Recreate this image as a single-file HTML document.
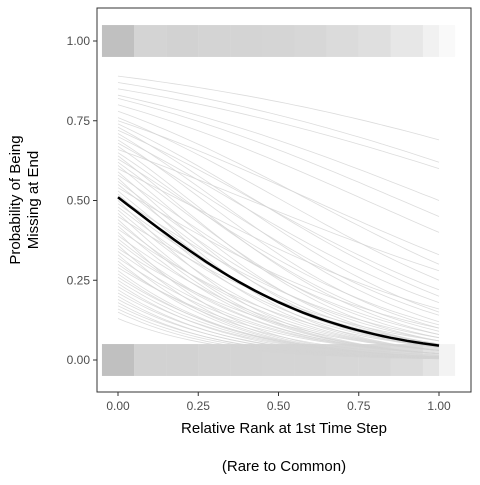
<!DOCTYPE html>
<html><head><meta charset="utf-8"><style>
body{margin:0;background:#fff;width:480px;height:480px;overflow:hidden}
svg text{font-family:"Liberation Sans",sans-serif}
</style></head><body>
<svg id="chart" width="480" height="480">
<rect x="0" y="0" width="480" height="480" fill="#fff"/>
<g id="bands"></g>
<g id="lines"></g>
<g id="main"></g>
<rect x="97" y="8" width="374" height="384" fill="none" stroke="#333" stroke-width="1"/>
<g id="axes"></g>
<text x="284" y="433" font-size="15" text-anchor="middle" fill="#000">Relative Rank at 1st Time Step</text>
<text x="284" y="471" font-size="15" text-anchor="middle" fill="#000">(Rare to Common)</text>
<g transform="translate(0,200) rotate(-90)">
<text x="0" y="20" font-size="15" text-anchor="middle" fill="#000">Probability of Being</text>
<text x="0" y="38" font-size="15" text-anchor="middle" fill="#000">Missing at End</text>
</g>
</svg>
<script>
const xTicks=[0,0.25,0.5,0.75,1];
const xTickLabels=["0.00","0.25","0.50","0.75","1.00"];
const yTicks=[0,0.25,0.5,0.75,1];
const yTickLabels=["0.00","0.25","0.50","0.75","1.00"];
const startProbs=[0.89,0.87,0.85,0.83,0.82,0.80,0.78,0.76,0.75,0.74,0.73,0.72,0.71,0.70,0.69,0.68,0.67,0.66,0.65,0.64,0.63,0.62,0.61,0.60,0.59,0.58,0.57,0.56,0.55,0.54,0.53,0.52,0.51,0.50,0.49,0.48,0.47,0.46,0.45,0.44,0.43,0.42,0.41,0.40,0.39,0.38,0.37,0.36,0.35,0.34,0.33,0.32,0.31,0.30,0.29,0.28,0.27,0.26,0.25,0.24,0.23,0.22,0.21,0.20,0.19,0.18,0.17,0.16,0.15,0.13];
const endProbs=[0.69,0.62,0.60,0.50,0.45,0.40,0.30,0.25,0.33,0.20,0.15,0.22,0.12,0.18,0.10,0.14,0.08,0.28,0.09,0.06,0.11,0.07,0.05,0.16,0.04,0.08,0.03,0.06,0.05,0.10,0.04,0.03,0.07,0.02,0.05,0.04,0.03,0.02,0.06,0.02,0.03,0.02,0.04,0.01,0.03,0.02,0.02,0.01,0.03,0.02,0.01,0.02,0.01,0.015,0.02,0.01,0.01,0.012,0.01,0.008,0.01,0.007,0.008,0.006,0.007,0.005,0.006,0.005,0.004,0.004];
const meanStart=0.51, meanEnd=0.045;
const binStarts=[-0.05,0.05,0.15,0.25,0.35,0.45,0.55,0.65,0.75,0.85,0.95,1.0];
const binDensityTop=[0.8,0.55,0.57,0.55,0.55,0.53,0.5,0.45,0.4,0.3,0.18,0.08];
const binDensityBottom=[0.8,0.57,0.57,0.55,0.55,0.53,0.53,0.5,0.5,0.45,0.35,0.15];
const X=v=>118+v*321, Y=v=>360-v*319;
const NS="http://www.w3.org/2000/svg";
function mk(tag,attrs,parent){const e=document.createElementNS(NS,tag);for(const k in attrs)e.setAttribute(k,attrs[k]);parent.appendChild(e);return e;}
const logit=p=>Math.log(p/(1-p)), inv=z=>1/(1+Math.exp(-z));
function curve(p0,p1){const a=logit(p0),b=logit(p1)-a;let d="";for(let i=0;i<=40;i++){const x=i/40;d+=(i?"L":"M")+X(x).toFixed(1)+","+Y(inv(a+b*x)).toFixed(1);}return d;}
const bands=document.getElementById('bands');
binStarts.forEach((b,i)=>{
  const x0=X(b), x1=X(i<binStarts.length-1?binStarts[i+1]:1.05);
  const r1=mk('rect',{x:x0,y:Y(1.05),width:x1-x0,height:Y(0.95)-Y(1.05),fill:"#b0b0b0","fill-opacity":binDensityTop[i]},bands);
  
  
  const r2=mk('rect',{x:x0,y:Y(0.05),width:x1-x0,height:Y(-0.05)-Y(0.05),fill:"#b0b0b0","fill-opacity":binDensityBottom[i]},bands);
  
  
});
const lines=document.getElementById('lines');
startProbs.forEach((p,i)=>{
  const l=mk('path',{d:curve(p,endProbs[i]),fill:"none",stroke:"#d3d3d3","stroke-width":0.8,"stroke-opacity":0.8},lines);
  
  
});
const m=mk('path',{d:curve(meanStart,meanEnd),fill:"none",stroke:"#000","stroke-width":2.5},document.getElementById('main'));


const ax=document.getElementById('axes');
xTicks.forEach((t,i)=>{
  const tk=mk('line',{x1:X(t),x2:X(t),y1:392,y2:396,stroke:"#333"},ax);
  
  
  const tx=mk('text',{x:X(t),y:410,"font-size":12,"text-anchor":"middle",fill:"#4d4d4d"},ax);
  tx.textContent=xTickLabels[i];
  
  
});
yTicks.forEach((t,i)=>{
  const tk=mk('line',{x1:93,x2:97,y1:Y(t),y2:Y(t),stroke:"#333"},ax);
  
  
  const tx=mk('text',{x:90,y:Y(t)+4,"font-size":12,"text-anchor":"end",fill:"#4d4d4d"},ax);
  tx.textContent=yTickLabels[i];
  
  
});
</script>
</body></html>
